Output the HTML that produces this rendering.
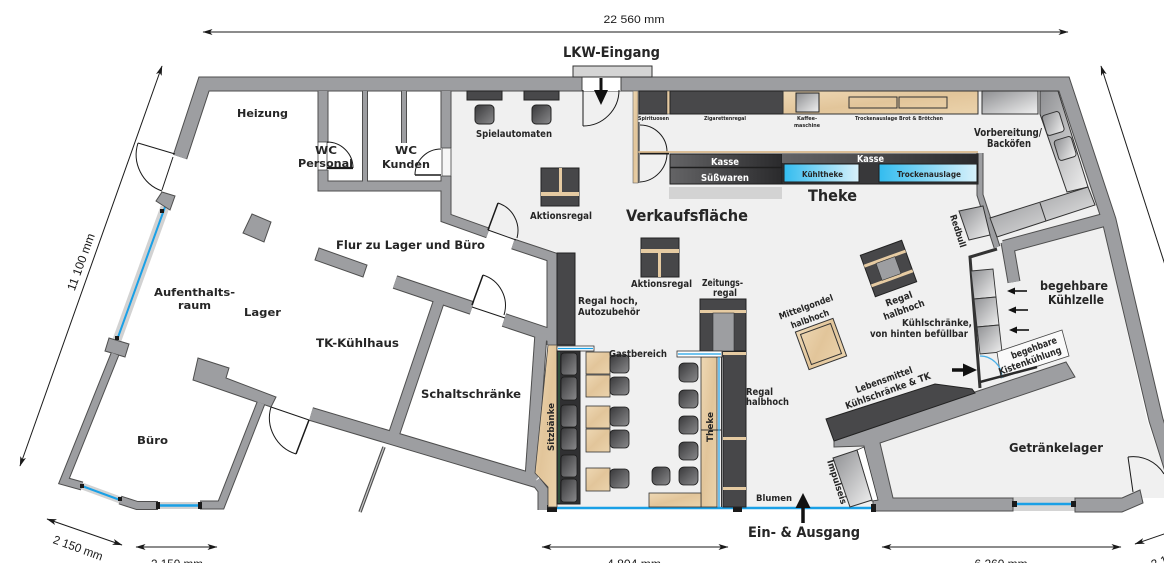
<!DOCTYPE html>
<html><head><meta charset="utf-8"><style>
html,body{margin:0;padding:0;background:#fff;width:1164px;height:563px;overflow:hidden}
svg{display:block}
.t{font-family:"DejaVu Sans","Liberation Sans",sans-serif;font-weight:bold;fill:#262626}
.tw{font-family:"DejaVu Sans","Liberation Sans",sans-serif;font-weight:bold;fill:#fff}
.d{font-family:"Liberation Sans Narrow","Liberation Sans",sans-serif;fill:#1a1a1a}
</style></head><body>
<svg width="1164" height="563" viewBox="0 0 1164 563" xmlns="http://www.w3.org/2000/svg">
<defs>
 <marker id="ah" viewBox="0 0 10 6" refX="9.5" refY="3" markerWidth="10" markerHeight="6" markerUnits="userSpaceOnUse" orient="auto-start-reverse"><path d="M0,0 L10,3 L0,6 L2.5,3 z" fill="#1a1a1a"/></marker>
 <linearGradient id="gg" x1="0" y1="0" x2="1" y2="1"><stop offset="0" stop-color="#8e8f92"/><stop offset="1" stop-color="#f0f0f0"/></linearGradient>
 <linearGradient id="dk" x1="0" y1="0" x2="1" y2="0"><stop offset="0" stop-color="#646466"/><stop offset="1" stop-color="#2a2a2c"/></linearGradient>
 <linearGradient id="bl" x1="0" y1="0" x2="1" y2="0"><stop offset="0" stop-color="#33bcef"/><stop offset="1" stop-color="#d8f1fb"/></linearGradient>
 <linearGradient id="ch" x1="0" y1="0" x2="1" y2="1"><stop offset="0" stop-color="#38383a"/><stop offset="1" stop-color="#8a8a8c"/></linearGradient>
 <linearGradient id="wd" x1="0" y1="0" x2="1" y2="1"><stop offset="0" stop-color="#eed8b4"/><stop offset="0.5" stop-color="#e2c59a"/><stop offset="1" stop-color="#ebd3ac"/></linearGradient>
</defs>

<!-- sales floor fill -->
<polygon fill="#f0f0f0" points="451,91 1058,91 1102,220 1147,420 1164,470 1164,498 874,498 874,508 557,508 557,252 513,240 488,229 451,216"/>

<!-- windows -->
<g stroke-linecap="butt">
 <line x1="165" y1="207" x2="117" y2="340" stroke="#d2d2d2" stroke-width="9"/>
 <line x1="165" y1="207" x2="117" y2="340" stroke="#1aa0e6" stroke-width="2"/>
 <line x1="82" y1="486" x2="120" y2="500" stroke="#d2d2d2" stroke-width="7"/>
 <line x1="82" y1="486" x2="120" y2="500" stroke="#1aa0e6" stroke-width="2"/>
 <line x1="158" y1="505.5" x2="200" y2="505.5" stroke="#d2d2d2" stroke-width="7"/>
 <line x1="158" y1="505.5" x2="200" y2="505.5" stroke="#1aa0e6" stroke-width="2.5"/>
 <rect x="1013" y="497" width="62" height="14" fill="#d4d4d4"/>
 <line x1="1016" y1="504" x2="1072" y2="504" stroke="#1aa0e6" stroke-width="2.5"/>
 <line x1="557" y1="508" x2="874" y2="508" stroke="#1aa0e6" stroke-width="2.5"/>
</g>

<!-- wall outlines -->
<g fill="none" stroke="#4e4e4e" stroke-linejoin="miter" stroke-miterlimit="10">
 <polyline points="180,157 204,84 1064,84 1109,220 1156,420 1175,480" stroke-width="15"/>
 <polyline points="323,91 323,143" stroke-width="11"/>
 <polyline points="323,170 323,186 446,186" stroke-width="11"/>
 <polyline points="446,91 446,148" stroke-width="11"/>
 <polyline points="446,176 446,218 488,233" stroke-width="11"/>
 <polyline points="365,91 365,182" stroke-width="6"/>
 <polyline points="404,91 404,143" stroke-width="6"/>
 <polyline points="513,244 552,257 552,345" stroke-width="11"/>
 <polyline points="395,282 472,308" stroke-width="14"/>
 <polyline points="504,320 552,336" stroke-width="14"/>
 <polyline points="440,298 393,437" stroke-width="12"/>
 <polyline points="311,414 536,481" stroke-width="14"/>
 <polyline points="541,333 531,478" stroke-width="13"/>
 <polyline points="536,481 543,490 543,510" stroke-width="11"/>
 <polyline points="115,354 64,481 82,486" stroke-width="9"/>
 <polyline points="120,500 137,505.5 158,505.5" stroke-width="9"/>
 <polyline points="200,505 221,505 261,403" stroke-width="9"/>
 <polyline points="980,153 980,195 997,247" stroke-width="7"/>
 <polyline points="1004,247 1104,220" stroke-width="14"/>
 <polyline points="1007,242 1014,282" stroke-width="13"/>
 <line x1="384" y1="447" x2="360" y2="512" stroke-width="3.5"/>
</g>
<!-- polygon walls -->
<g fill="#9d9ea1" stroke="#4e4e4e" stroke-width="1">
 <polygon points="198,358 229,368 226,378 276,397 271,407 193,380"/>
 <polygon points="109,338 129,344 125,357 105,351"/>
 <polygon points="156,201 162,192 175,196 170,210"/>
 <polygon points="252,214 271,222 264,242 243,233"/>
 <polygon points="319,248 367,265 363,277 315,260"/>
 <polygon points="834,441 975,392 1066,362 1075,377 880,443 893,498 1013,498 1013,511 873,511 873,500 864,446 834,447"/>
 <polygon points="1075,498 1122,498 1140,490 1143,503 1122,512 1075,512"/>
</g>
<!-- wall fills -->
<g fill="none" stroke="#9d9ea1" stroke-linejoin="miter" stroke-miterlimit="10">
 <polyline points="180,157 204,84 1064,84 1109,220 1156,420 1175,480" stroke-width="13"/>
 <polyline points="323,91 323,143" stroke-width="9"/>
 <polyline points="323,170 323,186 446,186" stroke-width="9"/>
 <polyline points="446,91 446,148" stroke-width="9"/>
 <polyline points="446,176 446,218 488,233" stroke-width="9"/>
 <polyline points="365,91 365,182" stroke-width="4"/>
 <polyline points="404,91 404,143" stroke-width="4"/>
 <polyline points="513,244 552,257 552,345" stroke-width="9"/>
 <polyline points="395,282 472,308" stroke-width="12"/>
 <polyline points="504,320 552,336" stroke-width="12"/>
 <polyline points="440,298 393,437" stroke-width="10"/>
 <polyline points="311,414 536,481" stroke-width="12"/>
 <polyline points="541,333 531,478" stroke-width="11"/>
 <polyline points="536,481 543,490 543,510" stroke-width="9"/>
 <polyline points="115,354 64,481 82,486" stroke-width="7"/>
 <polyline points="120,500 137,505.5 158,505.5" stroke-width="7"/>
 <polyline points="200,505 221,505 261,403" stroke-width="7"/>
 <polyline points="980,153 980,195 997,247" stroke-width="5"/>
 <polyline points="1004,247 1104,220" stroke-width="12"/>
 <polyline points="1007,242 1014,282" stroke-width="11"/>
 <line x1="384" y1="447" x2="360" y2="512" stroke="#c8c8c8" stroke-width="1.2"/>
</g>

<!-- window end squares -->
<g fill="#1a1a1a">
 <rect x="160" y="209" width="4" height="4"/><rect x="115" y="336" width="4" height="4"/>
 <rect x="80" y="484" width="4" height="4"/><rect x="118" y="497" width="4" height="4"/>
 <rect x="156" y="502" width="4" height="7"/><rect x="198" y="502" width="4" height="7"/>
 <rect x="1012" y="501" width="5" height="6"/><rect x="1071" y="501" width="5" height="6"/>
 <rect x="547" y="505" width="10" height="7"/><rect x="733" y="505" width="9" height="7"/><rect x="871" y="504" width="5" height="8"/>
</g>

<!-- LKW entrance -->
<rect x="582" y="77" width="39" height="14" fill="#fff"/>
<line x1="582" y1="77" x2="582" y2="91" stroke="#444"/><line x1="621" y1="77" x2="621" y2="91" stroke="#444"/>
<rect x="573" y="66" width="79" height="11" fill="#d4d4d4" stroke="#333" stroke-width="1"/>

<!-- door gaps -->
<rect x="318" y="142" width="9" height="28" fill="#fff" stroke="#444" stroke-width="0.8"/>
<rect x="442" y="148" width="9" height="28" fill="#f6f6f6" stroke="#444" stroke-width="0.8"/>

<!-- doors -->
<g fill="none" stroke="#1a1a1a" stroke-width="1">
 <path d="M138,143 L175,154"/><path d="M138,143 A38.5,38.5 0 0 0 162,191"/><path d="M173,157 L162,190"/>
 <path d="M327,168 L353,168" stroke-width="2.2"/><path d="M353,168 A26,26 0 0 0 327,142"/>
 <path d="M441,175 L415,175" stroke-width="1.5"/><path d="M415,175 A26,26 0 0 1 441,149"/>
 <path d="M583,90 L583,126"/><path d="M583,126 A36,36 0 0 0 619,90"/>
 <path d="M488,230 L498,203" stroke-width="1.5"/><path d="M498,203 A29,29 0 0 1 517,238"/><path d="M488,230 L516,240"/>
 <path d="M472,305 L483,275" stroke-width="1.5"/><path d="M483,275 A32,32 0 0 1 504,315"/><path d="M472,307 L505,318"/>
 <path d="M309,420 L296,454" stroke-width="1.5"/><path d="M271,407 A38,38 0 0 0 296,454"/><path d="M271,407 L309,420"/>
 <path d="M1133,492 L1128,457"/><path d="M1128,457 A36,36 0 0 1 1164,474"/>
 <path d="M640,125 A27,27 0 0 1 667,152"/><path d="M667,154 A29,29 0 0 1 640,182"/>
 <path d="M639,122 L639,183"/>
 <path d="M640,153.5 L669,153.5" stroke-width="2"/>
</g>
<line x1="633" y1="152" x2="978" y2="152" stroke="#d8b88c" stroke-width="1.8"/>

<!-- LKW arrow -->
<line x1="601" y1="78" x2="601" y2="92" stroke="#111" stroke-width="3"/>
<polygon points="594,90 608,90 601,105" fill="#111"/>

<!-- top shelves -->
<rect x="633" y="91" width="5" height="92" fill="url(#wd)" stroke="#666" stroke-width="0.6"/>
<rect x="639" y="91" width="28" height="23" fill="#48484a" stroke="#222"/>
<rect x="667" y="91" width="3" height="23" fill="#e6cba2" stroke="#333" stroke-width="0.5"/>
<rect x="670" y="91" width="113" height="23" fill="#48484a" stroke="#222"/>
<rect x="783" y="91" width="195" height="23" fill="url(#wd)" stroke="#333"/>
<rect x="796" y="93" width="23" height="19" fill="url(#gg)" stroke="#222"/>
<rect x="849" y="97" width="48" height="11" fill="none" stroke="#333"/>
<rect x="899" y="97" width="48" height="11" fill="none" stroke="#333"/>
<rect x="982" y="91" width="56" height="23" fill="url(#gg)" stroke="#333"/>
<polygon points="1040,91 1058,91 1088,187 1067,192 1040,114" fill="url(#gg)" stroke="#333"/>
<rect x="1044" y="113" width="18" height="21" rx="3" fill="url(#gg)" stroke="#333" transform="rotate(-17 1053 123)"/>
<rect x="1056" y="138" width="18" height="21" rx="3" fill="url(#gg)" stroke="#333" transform="rotate(-17 1065 148)"/>
<polygon points="990,218 1088,187 1095,205 997,237" fill="url(#gg)" stroke="#333"/>
<line x1="1040" y1="203" x2="1046" y2="221" stroke="#333"/>

<!-- Spielautomaten -->
<rect x="467" y="91" width="35" height="9" fill="#48484a" stroke="#222"/>
<rect x="524" y="91" width="35" height="9" fill="#48484a" stroke="#222"/>
<rect x="475" y="105" width="19" height="19" rx="4" fill="url(#ch)" stroke="#222"/>
<rect x="532" y="105" width="19" height="19" rx="4" fill="url(#ch)" stroke="#222"/>

<!-- Aktionsregale -->
<rect x="541" y="168" width="38" height="38" fill="#474749" stroke="#222"/>
<rect x="541" y="192" width="38" height="4" fill="#e6cba2"/>
<rect x="559" y="168" width="3" height="24" fill="#e6cba2"/>
<rect x="641" y="238" width="38" height="39" fill="#474749" stroke="#222"/>
<rect x="641" y="249" width="38" height="4" fill="#e6cba2"/>
<rect x="658" y="253" width="3" height="24" fill="#e6cba2"/>

<!-- Kasse / Theke -->
<rect x="670" y="154" width="112" height="30" fill="url(#dk)" stroke="#1e1e1e"/>
<line x1="670" y1="167.5" x2="782" y2="167.5" stroke="#1e1e1e" stroke-width="1.5"/>
<rect x="669" y="187" width="113" height="12" fill="#d3d3d3"/>
<rect x="782" y="154" width="196" height="30" fill="#38383a" stroke="#1e1e1e"/>
<rect x="782" y="154" width="196" height="9" fill="url(#dk)"/>
<rect x="784" y="164" width="75" height="18" fill="url(#bl)" stroke="#1e1e1e"/>
<rect x="879" y="164" width="98" height="18" fill="url(#bl)" stroke="#1e1e1e"/>

<!-- Regal hoch -->
<rect x="557" y="253" width="18" height="92" fill="#474749" stroke="#222"/>
<!-- Zeitungsregal -->
<rect x="700" y="299" width="46" height="52" fill="#474749" stroke="#222"/>
<rect x="700" y="310" width="46" height="3" fill="#e6cba2"/>
<rect x="713" y="313" width="21" height="38" fill="#9d9ea1" stroke="#333" stroke-width="0.6"/>

<!-- Sitzbänke -->
<polygon points="548,345 557,345 557,507 548,507 548,487 535,473" fill="url(#wd)" stroke="#444" stroke-width="0.8"/>
<rect x="557" y="346" width="37" height="5" fill="#fff" stroke="#333" stroke-width="0.8"/>
<line x1="558" y1="348.5" x2="593" y2="348.5" stroke="#1aa0e6" stroke-width="1.2"/>
<rect x="557" y="351" width="23" height="153" fill="#303032" stroke="#222"/>
<line x1="559" y1="352" x2="559" y2="503" stroke="#2d5a3e" stroke-width="1.5"/>
<g fill="url(#ch)" stroke="#1a1a1a" stroke-width="0.8">
 <rect x="561" y="353" width="16" height="22" rx="3"/><rect x="561" y="377" width="16" height="23" rx="3"/>
 <rect x="561" y="405" width="16" height="22" rx="3"/><rect x="561" y="428" width="16" height="22" rx="3"/>
 <rect x="561" y="455" width="16" height="22" rx="3"/><rect x="561" y="479" width="16" height="23" rx="3"/>
</g>
<g fill="url(#wd)" stroke="#333" stroke-width="0.8">
 <rect x="586" y="352" width="24" height="22"/><rect x="586" y="375" width="24" height="22"/>
 <rect x="586" y="406" width="24" height="22"/><rect x="586" y="429" width="24" height="23"/>
 <rect x="586" y="468" width="24" height="23"/>
</g>
<g fill="url(#ch)" stroke="#1a1a1a" stroke-width="0.8">
 <rect x="610" y="355" width="19" height="18" rx="4"/><rect x="610" y="377" width="19" height="18" rx="4"/>
 <rect x="610" y="407" width="19" height="19" rx="4"/><rect x="610" y="430" width="19" height="18" rx="4"/>
 <rect x="610" y="469" width="19" height="19" rx="4"/>
 <rect x="679" y="363" width="19" height="19" rx="5"/><rect x="679" y="390" width="19" height="18" rx="5"/>
 <rect x="679" y="416" width="19" height="18" rx="5"/><rect x="679" y="442" width="19" height="18" rx="5"/>
 <rect x="679" y="467" width="19" height="18" rx="5"/><rect x="652" y="467" width="18" height="18" rx="5"/>
</g>
<!-- Theke Gastbereich -->
<rect x="701" y="357" width="16" height="150" fill="url(#wd)" stroke="#333" stroke-width="0.8"/>
<rect x="649" y="493" width="52" height="14" fill="url(#wd)" stroke="#333" stroke-width="0.8"/>
<line x1="701" y1="430" x2="722" y2="430" stroke="#333"/>
<rect x="677" y="351" width="45" height="6" fill="#fff" stroke="#333" stroke-width="0.8"/>
<line x1="678" y1="354" x2="721" y2="354" stroke="#1aa0e6" stroke-width="1.2"/>
<line x1="719" y1="357" x2="719" y2="507" stroke="#1aa0e6" stroke-width="1.2"/>
<line x1="721.5" y1="357" x2="721.5" y2="507" stroke="#333" stroke-width="1"/>
<!-- Regal halbhoch column -->
<rect x="723" y="352" width="23" height="155" fill="#474749" stroke="#222"/>
<rect x="723" y="352" width="23" height="3" fill="#e6cba2"/>
<rect x="723" y="437" width="23" height="3" fill="#e6cba2"/>
<rect x="723" y="487" width="23" height="3" fill="#e6cba2"/>

<!-- Mittelgondel -->
<g transform="translate(821 344) rotate(-20)">
 <rect x="-20" y="-20" width="40" height="40" fill="url(#wd)" stroke="#333"/>
 <rect x="-16" y="-16" width="32" height="32" fill="none" stroke="#333"/>
</g>
<!-- Regal halbhoch right -->
<g transform="translate(888.5 268.5) rotate(-20)">
 <rect x="-22" y="-22" width="44" height="44" fill="#474749" stroke="#222"/>
 <rect x="-22" y="-12" width="44" height="3" fill="#e6cba2"/>
 <rect x="-22" y="9" width="44" height="3" fill="#e6cba2"/>
 <rect x="-10" y="-9" width="20" height="18" fill="#9d9ea1" stroke="#333" stroke-width="0.6"/>
</g>

<!-- Redbull -->
<polygon points="959,211 983,206 990,235 969,240" fill="url(#gg)" stroke="#333"/>

<!-- Kühlschränke -->
<polyline points="997,249 970,257 980,388" fill="none" stroke="#333" stroke-width="3"/>
<g fill="url(#gg)" stroke="#333" stroke-width="0.9">
 <polygon points="971,271 993,269 996,297 974,299"/>
 <polygon points="974,299 996,297 999,325 977,327"/>
 <polygon points="977,327 999,325 1002,352 980,354"/>
</g>
<g stroke="#111" stroke-width="1.6" fill="#111">
 <line x1="1027" y1="291" x2="1012" y2="291"/><polygon points="1007,291 1015,287.5 1015,294.5" stroke="none"/>
 <line x1="1028" y1="310" x2="1013" y2="310"/><polygon points="1008,310 1016,306.5 1016,313.5" stroke="none"/>
 <line x1="1029" y1="330" x2="1014" y2="330"/><polygon points="1009,330 1017,326.5 1017,333.5" stroke="none"/>
</g>
<line x1="952" y1="370" x2="966" y2="370" stroke="#111" stroke-width="3.5"/>
<polygon points="963,363.5 977,370 963,376.5" fill="#111"/>

<!-- Kistenkühlung -->
<polygon points="997,352 1062,330 1069,356 1001,378" fill="#fafafa" stroke="#444" stroke-width="0.8"/>
<path d="M980,356 A22,22 0 0 1 1002,378" fill="none" stroke="#4ab0e8" stroke-width="1.2"/>
<line x1="980" y1="382" x2="1037" y2="367" stroke="#2a2a2a" stroke-width="2.5"/>

<!-- Lebensmittel slab -->
<polygon points="826,419 935,384 972,389 975,393 834,441" fill="#48484a" stroke="#222"/>

<!-- Impulseis -->
<polygon points="857,450 864,447 878,500 872,501" fill="#fff" stroke="#333" stroke-width="0.8"/>
<polygon points="833,458 857,450 872,500 850,507" fill="url(#gg)" stroke="#333"/>

<!-- Ein-/Ausgang arrow -->
<line x1="803" y1="523" x2="803" y2="505" stroke="#111" stroke-width="3.5"/>
<polygon points="795.5,508 803,493 810.5,508" fill="#111"/>

<!-- labels -->
<g class="t">
 <text x="563" y="57" font-size="14" textLength="97" lengthAdjust="spacingAndGlyphs">LKW-Eingang</text>
 <text x="237" y="117" font-size="11" textLength="51" lengthAdjust="spacingAndGlyphs">Heizung</text>
 <text x="315" y="154" font-size="11" textLength="22" lengthAdjust="spacingAndGlyphs">WC</text>
 <text x="298" y="167" font-size="11" textLength="55" lengthAdjust="spacingAndGlyphs">Personal</text>
 <text x="395" y="154" font-size="11" textLength="22" lengthAdjust="spacingAndGlyphs">WC</text>
 <text x="382" y="168" font-size="11" textLength="48" lengthAdjust="spacingAndGlyphs">Kunden</text>
 <text x="476" y="137" font-size="9.5" textLength="76" lengthAdjust="spacingAndGlyphs">Spielautomaten</text>
 <text x="530" y="219" font-size="9.5" textLength="62" lengthAdjust="spacingAndGlyphs">Aktionsregal</text>
 <text x="626" y="221" font-size="16" textLength="122" lengthAdjust="spacingAndGlyphs">Verkaufsfläche</text>
 <text x="808" y="201" font-size="16" textLength="49" lengthAdjust="spacingAndGlyphs">Theke</text>
 <text x="802" y="177" font-size="8" textLength="41" lengthAdjust="spacingAndGlyphs">Kühltheke</text>
 <text x="897" y="177" font-size="8" textLength="64" lengthAdjust="spacingAndGlyphs">Trockenauslage</text>
 <text x="638" y="120" font-size="5.5" textLength="31" lengthAdjust="spacingAndGlyphs">Spirituosen</text>
 <text x="704" y="120" font-size="5.5" textLength="42" lengthAdjust="spacingAndGlyphs">Zigarettenregal</text>
 <text x="797" y="120" font-size="5.5" textLength="20" lengthAdjust="spacingAndGlyphs">Kaffee-</text>
 <text x="794" y="127" font-size="5.5" textLength="26" lengthAdjust="spacingAndGlyphs">maschine</text>
 <text x="855" y="120" font-size="5.5" textLength="88" lengthAdjust="spacingAndGlyphs">Trockenauslage Brot &amp; Brötchen</text>
 <text x="974" y="136" font-size="10.5" textLength="68" lengthAdjust="spacingAndGlyphs">Vorbereitung/</text>
 <text x="987" y="147" font-size="10.5" textLength="44" lengthAdjust="spacingAndGlyphs">Backöfen</text>
 <text x="336" y="249" font-size="11.5" textLength="149" lengthAdjust="spacingAndGlyphs">Flur zu Lager und Büro</text>
 <text x="154" y="296" font-size="11" textLength="81" lengthAdjust="spacingAndGlyphs">Aufenthalts-</text>
 <text x="178" y="309" font-size="11" textLength="33" lengthAdjust="spacingAndGlyphs">raum</text>
 <text x="244" y="316" font-size="11" textLength="37" lengthAdjust="spacingAndGlyphs">Lager</text>
 <text x="316" y="347" font-size="11.5" textLength="83" lengthAdjust="spacingAndGlyphs">TK-Kühlhaus</text>
 <text x="421" y="398" font-size="11.5" textLength="100" lengthAdjust="spacingAndGlyphs">Schaltschränke</text>
 <text x="137" y="444" font-size="11" textLength="31" lengthAdjust="spacingAndGlyphs">Büro</text>
 <text x="578" y="304" font-size="9.5" textLength="60" lengthAdjust="spacingAndGlyphs">Regal hoch,</text>
 <text x="578" y="315" font-size="9.5" textLength="62" lengthAdjust="spacingAndGlyphs">Autozubehör</text>
 <text x="631" y="287" font-size="9.5" textLength="61" lengthAdjust="spacingAndGlyphs">Aktionsregal</text>
 <text x="702" y="286" font-size="9.5" textLength="41" lengthAdjust="spacingAndGlyphs">Zeitungs-</text>
 <text x="713" y="296" font-size="9.5" textLength="24" lengthAdjust="spacingAndGlyphs">regal</text>
 <text x="609" y="357" font-size="9.5" textLength="58" lengthAdjust="spacingAndGlyphs">Gastbereich</text>
 <text x="746" y="395" font-size="9.5" textLength="27" lengthAdjust="spacingAndGlyphs">Regal</text>
 <text x="746" y="405" font-size="9.5" textLength="43" lengthAdjust="spacingAndGlyphs">halbhoch</text>
 <text x="756" y="501" font-size="9" textLength="36" lengthAdjust="spacingAndGlyphs">Blumen</text>
 <text x="748" y="537" font-size="14" textLength="112" lengthAdjust="spacingAndGlyphs">Ein- &amp; Ausgang</text>
 <text x="1009" y="452" font-size="12" textLength="94" lengthAdjust="spacingAndGlyphs">Getränkelager</text>
 <text x="1040" y="290" font-size="12.5" textLength="68" lengthAdjust="spacingAndGlyphs">begehbare</text>
 <text x="1048" y="304" font-size="12.5" textLength="56" lengthAdjust="spacingAndGlyphs">Kühlzelle</text>
 <text x="902" y="326" font-size="9.5" textLength="70" lengthAdjust="spacingAndGlyphs">Kühlschränke,</text>
 <text x="870" y="337" font-size="9.5" textLength="98" lengthAdjust="spacingAndGlyphs">von hinten befüllbar</text>
 <g text-anchor="middle">
  <text x="806" y="310" font-size="9" textLength="57" lengthAdjust="spacingAndGlyphs" transform="rotate(-20 806 307)">Mittelgondel</text>
  <text x="810" y="322" font-size="9" textLength="40" lengthAdjust="spacingAndGlyphs" transform="rotate(-20 810 319)">halbhoch</text>
  <text x="899" y="302" font-size="9.5" textLength="28" lengthAdjust="spacingAndGlyphs" transform="rotate(-20 899 299)">Regal</text>
  <text x="904" y="313" font-size="9.5" textLength="43" lengthAdjust="spacingAndGlyphs" transform="rotate(-20 904 310)">halbhoch</text>
  <text x="884" y="383" font-size="9.5" textLength="60" lengthAdjust="spacingAndGlyphs" transform="rotate(-20 884 380)">Lebensmittel</text>
  <text x="888" y="394" font-size="9.5" textLength="90" lengthAdjust="spacingAndGlyphs" transform="rotate(-20 888 391)">Kühlschränke &amp; TK</text>
  <text x="1034" y="351" font-size="9.5" textLength="48" lengthAdjust="spacingAndGlyphs" transform="rotate(-20 1034 348)">begehbare</text>
  <text x="1030" y="364" font-size="9.5" textLength="66" lengthAdjust="spacingAndGlyphs" transform="rotate(-20 1030 361)">Kistenkühlung</text>
  <text x="958" y="234" font-size="9" textLength="34" lengthAdjust="spacingAndGlyphs" transform="rotate(72 958 231)">Redbull</text>
  <text x="837" y="485" font-size="9" textLength="46" lengthAdjust="spacingAndGlyphs" transform="rotate(72 837 482)">Impulseis</text>
  <text x="551" y="430" font-size="8.5" textLength="48" lengthAdjust="spacingAndGlyphs" transform="rotate(-90 551 427)">Sitzbänke</text>
  <text x="710" y="430" font-size="9" textLength="30" lengthAdjust="spacingAndGlyphs" transform="rotate(-90 710 427)">Theke</text>
 </g>
</g>
<g class="tw">
 <text x="711" y="165" font-size="10" textLength="28" lengthAdjust="spacingAndGlyphs">Kasse</text>
 <text x="701" y="181" font-size="10" textLength="48" lengthAdjust="spacingAndGlyphs">Süßwaren</text>
 <text x="857" y="162" font-size="10" textLength="27" lengthAdjust="spacingAndGlyphs">Kasse</text>
</g>

<!-- dimensions -->
<g stroke="#1a1a1a" stroke-width="1" fill="none" marker-start="url(#ah)" marker-end="url(#ah)">
 <line x1="203" y1="32" x2="1068" y2="32"/>
 <line x1="20" y1="466" x2="162" y2="66"/>
 <line x1="47" y1="519" x2="122" y2="545"/>
 <line x1="136" y1="547" x2="217" y2="547"/>
 <line x1="542" y1="547" x2="728" y2="547"/>
 <line x1="882" y1="547" x2="1121" y2="547"/>
</g>
<line x1="1175" y1="296" x2="1101" y2="66" stroke="#1a1a1a" stroke-width="1" marker-end="url(#ah)"/>
<line x1="1190" y1="525" x2="1135" y2="544" stroke="#1a1a1a" stroke-width="1" marker-end="url(#ah)"/>
<g class="d" font-size="12" text-anchor="middle">
 <text x="634" y="23" font-size="11" textLength="61" lengthAdjust="spacingAndGlyphs">22 560 mm</text>
 <text x="81" y="266" textLength="60" lengthAdjust="spacingAndGlyphs" transform="rotate(-70 81 262)">11 100 mm</text>
 <text x="78" y="552" textLength="52" lengthAdjust="spacingAndGlyphs" transform="rotate(20 78 548)">2 150 mm</text>
 <text x="177" y="568" textLength="52" lengthAdjust="spacingAndGlyphs">2 150 mm</text>
 <text x="634" y="568" textLength="54" lengthAdjust="spacingAndGlyphs">4 804 mm</text>
 <text x="1001" y="568" textLength="53" lengthAdjust="spacingAndGlyphs">6 260 mm</text>
 <text x="1176" y="560" textLength="52" lengthAdjust="spacingAndGlyphs" transform="rotate(-20 1176 556)">2 150 mm</text>
</g>
</svg>
</body></html>
